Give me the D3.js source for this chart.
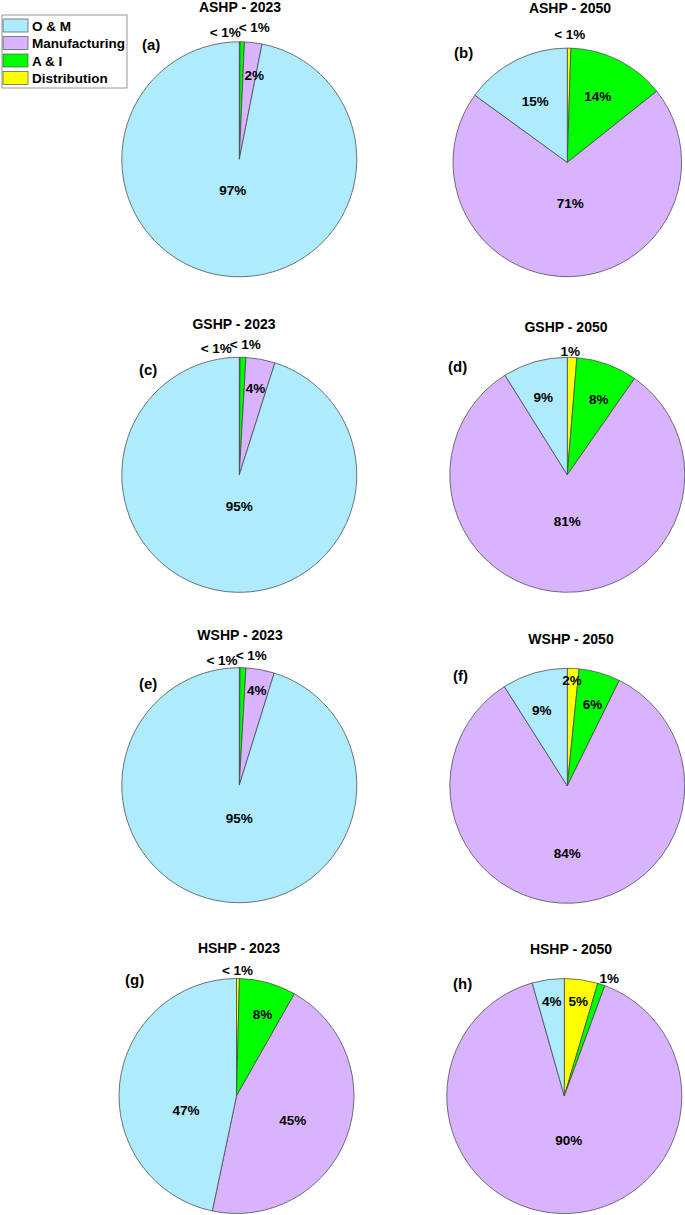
<!DOCTYPE html>
<html>
<head>
<meta charset="utf-8">
<script src="https://cdn.jsdelivr.net/npm/d3@7/dist/d3.min.js"></script>
<style>
  html, body { margin: 0; padding: 0; background: #fff; }
  svg { display: block; font-family: "Liberation Sans", Arial, sans-serif; }
</style>
</head>
<body>
<svg id="chart" width="685" height="1215"></svg>
<script>
// ---- data ----
const categories = ["O & M", "Manufacturing", "A & I", "Distribution"];
const panelLetters = ["(a)", "(b)", "(c)", "(d)", "(e)", "(f)", "(g)", "(h)"];
const panelTitles = ["ASHP - 2023", "ASHP - 2050", "GSHP - 2023", "GSHP - 2050",
                     "WSHP - 2023", "WSHP - 2050", "HSHP - 2023", "HSHP - 2050"];
// shares in percent, one value per panel
const omValues           = [96.9, 15.0, 95.1, 8.9, 95.2, 9.0, 46.7, 4.4];
const manufacturingValues = [2.4, 70.7, 4.0, 81.4, 3.9, 83.7, 45.1, 90.0];
const aiValues           = [0.6, 13.8, 0.8, 8.4, 0.8, 5.7, 7.8, 1.0];
const distributionValues = [0.1, 0.5, 0.1, 1.3, 0.1, 1.6, 0.4, 4.6];

// ---- layout / style (kept apart from data) ----
const colors = {"O & M": "#aeebfc", "Manufacturing": "#d9b4fe", "A & I": "#00ff00", "Distribution": "#ffff00"};
// drawing order clockwise from 12 o'clock
const sliceOrder = ["Distribution", "A & I", "Manufacturing", "O & M"];
const panelLayout = [
  {cx: 239.3, cy: 159.3, r: 117.5, tx: 240, ty: 12,  lx: 142, ly: 50},
  {cx: 567.3, cy: 162.4, r: 114.3, tx: 570, ty: 13,  lx: 454, ly: 58},
  {cx: 239.3, cy: 474.8, r: 117.5, tx: 234, ty: 329, lx: 139, ly: 375},
  {cx: 567.3, cy: 474.8, r: 117.5, tx: 566, ty: 332, lx: 448, ly: 372},
  {cx: 239.3, cy: 785.2, r: 117.5, tx: 240, ty: 640, lx: 139, ly: 689},
  {cx: 567.3, cy: 785.8, r: 117.5, tx: 571, ty: 644, lx: 453, ly: 681},
  {cx: 236.5, cy: 1096,  r: 117.5, tx: 239, ty: 953, lx: 125, ly: 985},
  {cx: 564.3, cy: 1096,  r: 117.5, tx: 571, ty: 954, lx: 453, ly: 989}
];
// label offsets from pie centre (px), per panel, in sliceOrder
const labelOffsets = [
  [[-14, -127], [15, -132], [15, -84], [-6.6, 31]],
  [[2.4, -128], [30.5, -66.4], [3, 41.4], [-32, -61.4]],
  [[-23, -126.5], [6, -130], [16.2, -86.5], [0, 32]],
  [[3, -123.5], [31.4, -75.5], [0, 47], [-24, -77]],
  [[-17.3, -125], [12, -130], [17.4, -95], [0, 33]],
  [[4.7, -105.8], [25.2, -81.5], [0, 68], [-25.6, -75.8]],
  [[1, -126], [26, -81.7], [56.2, 24], [-50.5, 14]],
  [[14, -95], [45, -117.7], [4.5, 44], [-12.6, -95]]
];

const valueOf = {
  "O & M": omValues,
  "Manufacturing": manufacturingValues,
  "A & I": aiValues,
  "Distribution": distributionValues
};

const svg = d3.select("#chart");
const pie = d3.pie().sort(null).value(d => d.value).startAngle(0).endAngle(2 * Math.PI);
const fmt = v => (v < 1 ? "< 1%" : Math.round(v) + "%");

panelLayout.forEach((p, i) => {
  const data = sliceOrder.map(c => ({cat: c, value: valueOf[c][i]}));
  const arcs = pie(data);
  const arc = d3.arc().innerRadius(0).outerRadius(p.r);
  const g = svg.append("g").attr("transform", `translate(${p.cx},${p.cy})`);
  g.selectAll("path").data(arcs).join("path")
    .attr("d", arc)
    .attr("fill", d => colors[d.data.cat])
    .attr("stroke", "#3c3c3c")
    .attr("stroke-width", 0.7)
    .attr("stroke-linejoin", "round");
  g.selectAll("text.lbl").data(arcs).join("text")
    .attr("class", "lbl")
    .attr("x", (d, j) => labelOffsets[i][j][0])
    .attr("y", (d, j) => labelOffsets[i][j][1])
    .attr("text-anchor", "middle")
    .attr("dominant-baseline", "central")
    .attr("font-size", 13.5)
    .attr("font-weight", "bold")
    .attr("fill", "#000")
    .text(d => fmt(d.data.value));
  svg.append("text")
    .attr("x", p.tx).attr("y", p.ty)
    .attr("text-anchor", "middle")
    .attr("font-size", 14).attr("font-weight", "bold")
    .text(panelTitles[i]);
  svg.append("text")
    .attr("x", p.lx).attr("y", p.ly)
    .attr("font-size", 15).attr("font-weight", "bold")
    .text(panelLetters[i]);
});

// ---- legend ----
const legend = svg.append("g").attr("transform", "translate(2,15)");
legend.append("rect").attr("x", 0).attr("y", 0).attr("width", 125).attr("height", 73)
  .attr("fill", "#fff").attr("stroke", "#999").attr("stroke-width", 1);
const items = legend.selectAll("g.item").data(categories).join("g")
  .attr("class", "item")
  .attr("transform", (d, k) => `translate(1,${4 + k * 17.5})`);
items.append("rect").attr("width", 25).attr("height", 13)
  .attr("fill", d => colors[d]).attr("stroke", "#555").attr("stroke-width", 0.7);
items.append("text").attr("x", 29).attr("y", 11.5)
  .attr("font-size", 13.5).attr("font-weight", "bold").text(d => d);
</script>
</body>
</html>
